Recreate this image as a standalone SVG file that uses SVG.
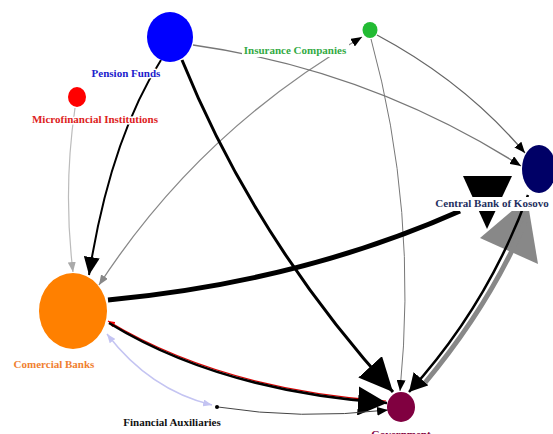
<svg xmlns="http://www.w3.org/2000/svg" width="553" height="434" viewBox="0 0 553 434">
<style>
.lbl{font-family:"Liberation Serif","Times New Roman",serif;font-weight:bold;font-size:11px;text-anchor:middle;stroke:#fff;stroke-width:3px;stroke-linejoin:round;paint-order:stroke}
.e{fill:none;stroke-linecap:butt}
</style>
<defs>
<marker id="ab" viewBox="0 0 10 10" refX="10" refY="5" markerUnits="userSpaceOnUse" markerWidth="11" markerHeight="9" orient="auto" preserveAspectRatio="none"><path d="M0,0L10,5L0,10z" fill="#000"/></marker>
<marker id="ag" viewBox="0 0 10 10" refX="10" refY="5" markerUnits="userSpaceOnUse" markerWidth="10" markerHeight="8" orient="auto" preserveAspectRatio="none"><path d="M0,0L10,5L0,10z" fill="#888"/></marker>
<marker id="alg" viewBox="0 0 10 10" refX="10" refY="5" markerUnits="userSpaceOnUse" markerWidth="10" markerHeight="8" orient="auto" preserveAspectRatio="none"><path d="M0,0L10,5L0,10z" fill="#aaa"/></marker>
<marker id="ar" viewBox="0 0 10 10" refX="10" refY="5" markerUnits="userSpaceOnUse" markerWidth="7" markerHeight="6" orient="auto" preserveAspectRatio="none"><path d="M0,0L10,5L0,10z" fill="#e00"/></marker>
<marker id="al" viewBox="0 0 10 10" refX="10" refY="5" markerUnits="userSpaceOnUse" markerWidth="9" markerHeight="7" orient="auto-start-reverse" preserveAspectRatio="none"><path d="M0,0L10,5L0,10z" fill="#c4c4f2"/></marker>
<marker id="amed" viewBox="0 0 10 10" refX="10" refY="5" markerUnits="userSpaceOnUse" markerWidth="18" markerHeight="16" orient="auto" preserveAspectRatio="none"><path d="M0,0L10,5L0,10z" fill="#000"/></marker>
<marker id="agov" viewBox="0 0 10 10" refX="10" refY="5" markerUnits="userSpaceOnUse" markerWidth="18" markerHeight="20" orient="auto" preserveAspectRatio="none"><path d="M0,0L10,5L0,10z" fill="#000"/></marker>
<marker id="abig1" viewBox="0 0 10 10" refX="10" refY="5" markerUnits="userSpaceOnUse" markerWidth="34" markerHeight="32" orient="auto" preserveAspectRatio="none"><path d="M0,0L10,5L0,10z" fill="#000"/></marker>
<marker id="abig2" viewBox="0 0 10 10" refX="10" refY="5" markerUnits="userSpaceOnUse" markerWidth="29" markerHeight="29" orient="auto" preserveAspectRatio="none"><path d="M0,0L10,5L0,10z" fill="#000"/></marker>
</defs>
<rect width="553" height="434" fill="#fff"/>
<g id="connectors">
<path class="e" d="M75,108 Q63,190 73,272" stroke="#bbb" stroke-width="1.2" marker-end="url(#alg)"/>
<path class="e" d="M362,37 Q200,130 99,285" stroke="#888" stroke-width="1.3" marker-end="url(#ag)"/>
<path class="e" d="M150,225 Q240,110 362,37" stroke="none" marker-end="url(#ab)"/>
<path class="e" d="M193,45 Q370,70 521,166" stroke="#777" stroke-width="1.3" marker-end="url(#ab)"/>
<path class="e" d="M377,35 Q465,82 525,153" stroke="#666" stroke-width="1.3" marker-end="url(#ab)"/>
<path class="e" d="M371,39 Q418,210 400,391" stroke="#777" stroke-width="1" marker-end="url(#ab)"/>
<path class="e" d="M161,60 Q110,140 89,275" stroke="#000" stroke-width="2" marker-end="url(#amed)"/>
<path class="e" d="M182,60 Q255,240 393,392" stroke="#000" stroke-width="3" marker-end="url(#abig1)"/>
<path class="e" d="M108,300 Q300,282 460,211" stroke="#000" stroke-width="5"/>
<polygon points="480,238 538,264 527,198" fill="#888"/>
<polygon points="463,176 512,176 487,229" fill="#000"/>
<path class="e" d="M424,384 Q490,305 525,222" stroke="#888" stroke-width="5"/>
<path class="e" d="M528,195 Q488,305 409,392" stroke="#000" stroke-width="2.5" marker-end="url(#agov)"/>
<path class="e" d="M386,401 Q220,389 108,321" stroke="#d00" stroke-width="1.2" marker-end="url(#ar)"/>
<path class="e" d="M109,323 Q220,391 387,403" stroke="#000" stroke-width="2.5" marker-end="url(#abig2)"/>
<path class="e" d="M107,334 Q150,390 212,405" stroke="#c4c4f2" stroke-width="1.5" marker-start="url(#al)" marker-end="url(#al)"/>
<path class="e" d="M218,407 Q300,420 388,410" stroke="#444" stroke-width="1" marker-end="url(#ab)"/>
</g>
<g id="pension-funds">
<ellipse cx="170" cy="37" rx="23" ry="25" fill="#0000ff"/>
<text class="lbl" x="126" y="77" fill="#2020cc">Pension Funds</text>
</g>
<g id="microfinancial-institutions">
<ellipse cx="77" cy="97" rx="9" ry="10" fill="#ff0000"/>
<text class="lbl" x="95" y="123" fill="#dd2222">Microfinancial Institutions</text>
</g>
<g id="insurance-companies">
<ellipse cx="370" cy="30" rx="7.5" ry="8" fill="#22bb33"/>
<rect x="242" y="43" width="107" height="14" fill="#fff"/>
<text class="lbl" x="295" y="54" fill="#33aa44">Insurance Companies</text>
</g>
<g id="central-bank-of-kosovo">
<ellipse cx="539" cy="169" rx="17" ry="24" fill="#000066"/>
<rect x="434" y="197" width="117" height="14" fill="#fff"/>
<text class="lbl" x="492" y="207" fill="#1f3060">Central Bank of Kosovo</text>
</g>
<g id="comercial-banks">
<ellipse cx="73" cy="311" rx="34" ry="38" fill="#ff8000"/>
<text class="lbl" x="54" y="368" fill="#f08030">Comercial Banks</text>
</g>
<g id="financial-auxiliaries">
<circle cx="217" cy="407" r="2" fill="#000"/>
<text class="lbl" x="172" y="426" fill="#111">Financial Auxiliaries</text>
</g>
<g id="government">
<ellipse cx="401" cy="407" rx="14" ry="15" fill="#800040"/>
<text class="lbl" x="401" y="438" fill="#800040">Government</text>
</g>
</svg>
